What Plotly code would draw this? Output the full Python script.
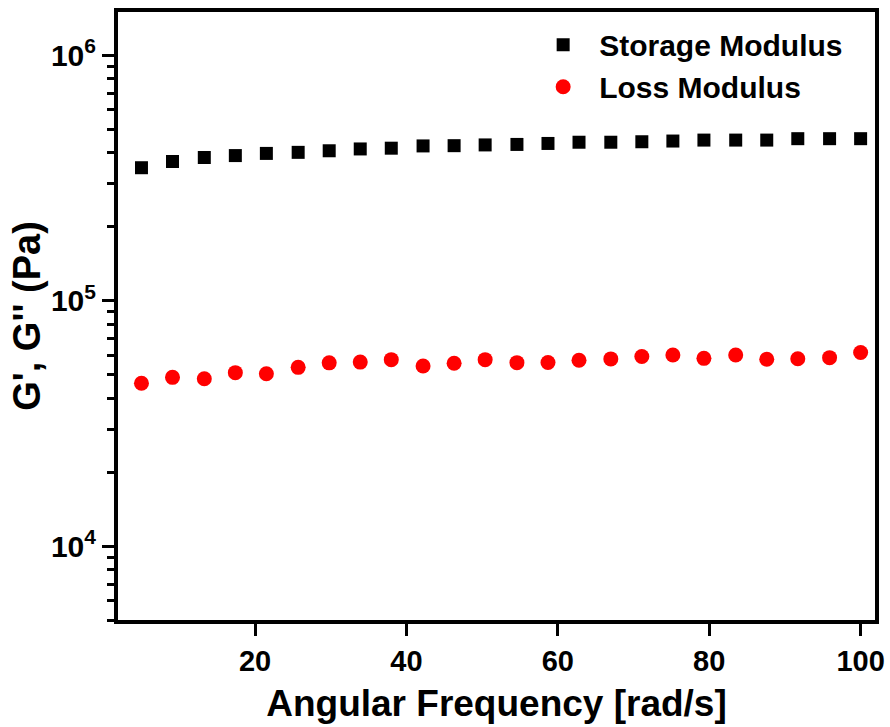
import plotly.graph_objects as go

# angular frequency sweep [rad/s]
freq = [5.0, 9.1, 13.3, 17.4, 21.5, 25.7, 29.8, 33.9, 38.0, 42.2, 46.3, 50.4,
        54.6, 58.7, 62.8, 67.0, 71.1, 75.2, 79.3, 83.5, 87.6, 91.7, 95.9, 100.0]

# storage modulus G' [Pa]
storage = [348e3, 369e3, 383e3, 390e3, 398e3, 402e3, 408e3, 415e3, 418e3, 427e3, 428e3, 431e3,
           433e3, 437e3, 442e3, 442e3, 444e3, 447e3, 451e3, 451e3, 451e3, 457e3, 457e3, 457e3]

# loss modulus G'' [Pa]
loss = [46.1e3, 48.7e3, 48.1e3, 50.9e3, 50.4e3, 53.5e3, 55.8e3, 56.2e3, 57.5e3, 54.2e3, 55.6e3, 57.5e3,
        55.9e3, 56.0e3, 57.2e3, 57.9e3, 59.2e3, 60.1e3, 58.2e3, 60.1e3, 57.7e3, 58.0e3, 58.6e3, 61.5e3]

x_ticks = [20, 40, 60, 80, 100]
y_ticks = [1e4, 1e5, 1e6]
y_tick_labels = ["10<sup>4</sup>", "10<sup>5</sup>", "10<sup>6</sup>"]

FONT = "Liberation Sans, Arial, sans-serif"

fig = go.Figure()
fig.add_trace(go.Scatter(x=freq, y=storage, mode="markers", name="Storage Modulus",
                         marker=dict(symbol="square", size=13, color="black")))
fig.add_trace(go.Scatter(x=freq, y=loss, mode="markers", name="Loss Modulus",
                         marker=dict(symbol="circle", size=15, color="#ff0000")))

# x axis keeps fixed margins so the "100" label cannot squeeze the plot area
fig.update_xaxes(
    range=[1.9, 101.9], tickvals=x_ticks, automargin=False,
    ticklabeloverflow="allow",
    showline=True, linewidth=4, linecolor="black", mirror=True,
    ticks="outside", ticklen=12, tickwidth=3, tickcolor="black",
    showgrid=False, zeroline=False,
    tickfont=dict(family=FONT, size=29, color="black", weight="bold"),
    title=dict(text="Angular Frequency [rad/s]",
               font=dict(family=FONT, size=37, color="black", weight="bold")),
)
fig.update_yaxes(
    type="log", range=[3.699, 6.176], automargin=True,
    tickvals=y_ticks, ticktext=y_tick_labels,
    showline=True, linewidth=4, linecolor="black", mirror=True,
    ticks="outside", ticklen=12, tickwidth=3, tickcolor="black",
    minor=dict(ticks="outside", ticklen=7, tickwidth=3, tickcolor="black",
               dtick="D1", showgrid=False),
    showgrid=False, zeroline=False,
    tickfont=dict(family=FONT, size=30, color="black", weight="bold"),
    title=dict(text="G', G'' (Pa)", standoff=0,
               font=dict(family=FONT, size=38, color="black", weight="bold")),
)

fig.update_layout(
    width=890, height=727,
    autosize=False,
    margin=dict(l=118, r=11, t=12, b=107),
    paper_bgcolor="white", plot_bgcolor="white",
    showlegend=True,
    legend=dict(x=0.5405, y=0.989, xanchor="left", yanchor="top",
                bgcolor="rgba(0,0,0,0)", itemwidth=62, tracegroupgap=0,
                font=dict(family=FONT, size=30, color="black", weight="bold")),
)

# drop the default 8px page margin so the figure fills the window exactly
fig.write_html("out.html", config={"displayModeBar": False},
               post_script="document.body.style.margin='0';document.body.style.overflow='hidden';")
